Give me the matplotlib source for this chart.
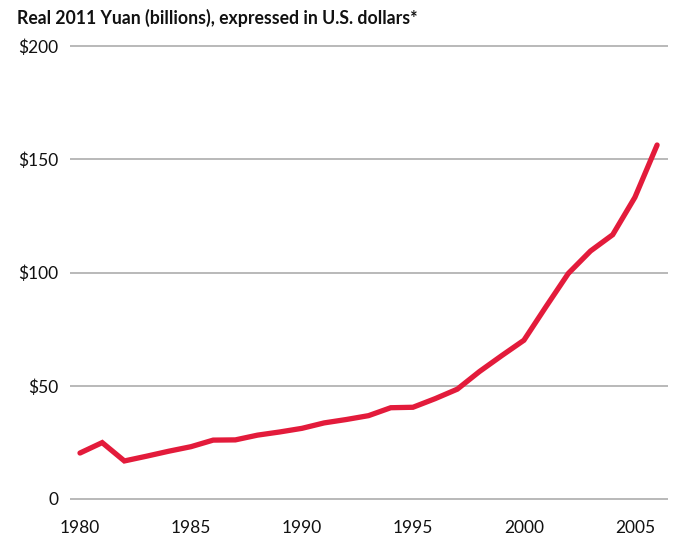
import matplotlib
matplotlib.use("Agg")
import matplotlib.pyplot as plt

# Real 2011 Yuan (billions), in U.S. dollars
years = list(range(1980, 2007))
values = [20.3, 24.9, 16.8, 18.9, 21.1, 23.1, 26.0, 26.1, 28.2, 29.6,
          31.2, 33.6, 35.1, 36.8, 40.3, 40.5, 44.3, 48.5, 56.3, 63.3,
          70.1, 85.0, 99.6, 109.5, 116.7, 133.2, 156.3]
x_ticks = [1980, 1985, 1990, 1995, 2000, 2005]
y_ticks = [0, 50, 100, 150, 200]
y_labels = ["0", "$50", "$100", "$150", "$200"]
title = "Real 2011 Yuan (billions), expressed in U.S. dollars*"

plt.rcParams['font.family'] = ['Lato', 'DejaVu Sans']

fig = plt.figure(figsize=(6.75, 5.44), dpi=100)
ax = fig.add_axes([0.1037, 0.0744, 0.8859, 0.8493])

ax.plot(years, values, color="#E31B3B", linewidth=3.8, solid_capstyle="round",
        solid_joinstyle="miter", zorder=3)

ax.set_xlim(1979.55, 2006.49)
ax.set_ylim(-2, 202)
ax.set_xticks(x_ticks)
ax.set_yticks(y_ticks)
ax.set_yticklabels(y_labels)
ax.grid(axis="y", color="#a6a6a6", linewidth=1.1)
ax.tick_params(length=0, labelsize=12.5, colors="#111111")
ax.tick_params(axis="x", pad=12)
ax.tick_params(axis="y", pad=8.5)
for s in ax.spines.values():
    s.set_visible(False)

fig.text(17 / 675, 1 - 9 / 544, title, ha="left", va="top", fontsize=12.7,
         fontweight="bold", color="#111111")

fig.savefig("out.png", dpi=100)
